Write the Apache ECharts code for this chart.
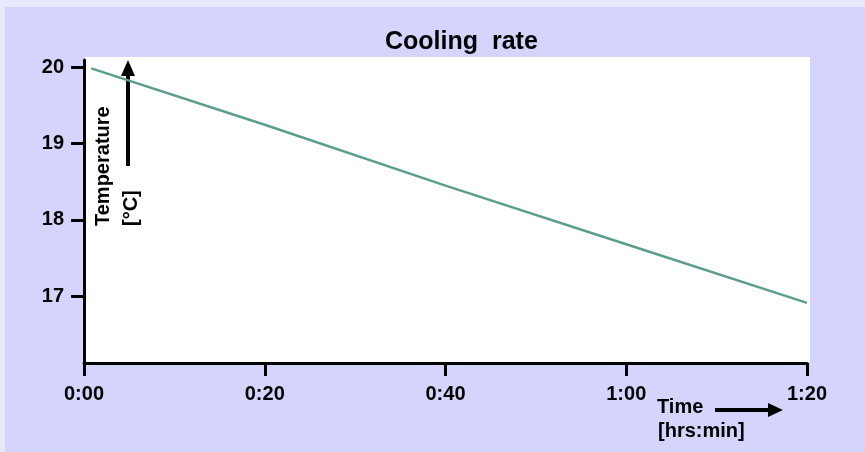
<!DOCTYPE html>
<html>
<head>
<meta charset="utf-8">
<script src="https://cdn.jsdelivr.net/npm/echarts@6/dist/echarts.min.js"></script>
<style>
  html, body { margin: 0; padding: 0; background: #e9e9fd; }
  #chart { width: 865px; height: 452px; }
</style>
</head>
<body>
<div id="chart"></div>
<script>
// values
const timeMinutes = [0.8, 20, 40, 60, 80]
const temperature = [19.99, 19.25, 18.45, 17.68, 16.91]
const timeLabels = ['0:00', '0:20', '0:40', '1:00', '1:20']
const tempTicks = [17, 18, 19, 20]

const font = 'Liberation Sans, Arial, sans-serif'
const chart = echarts.init(document.getElementById('chart'))

const option = {
  backgroundColor: '#e9e9fd',
  animation: false,
  title: {
    text: 'Cooling  rate',
    left: 380,
    top: 25,
    textStyle: { fontFamily: font, fontSize: 25, fontWeight: 'bold', color: '#000' }
  },
  grid: { left: 84, right: 58, top: 60, bottom: 89 },
  xAxis: {
    type: 'value',
    min: 0,
    max: 80,
    interval: 20,
    splitLine: { show: false },
    axisLine: { lineStyle: { color: '#000', width: 3 } },
    axisTick: { length: 13, lineStyle: { color: '#000', width: 3 } },
    axisLabel: {
      margin: 21,
      fontFamily: font,
      fontSize: 20,
      fontWeight: 'bold',
      color: '#000',
      formatter: v => timeLabels[Math.round(v / 20)]
    }
  },
  yAxis: {
    type: 'value',
    min: 16.12,
    max: 20.1,
    splitLine: { show: false },
    axisLine: { show: true, lineStyle: { color: '#000', width: 3 } },
    axisTick: { show: true, length: 13, customValues: tempTicks, lineStyle: { color: '#000', width: 3 } },
    axisLabel: {
      margin: 20,
      customValues: tempTicks,
      fontFamily: font,
      fontSize: 20,
      fontWeight: 'bold',
      color: '#000'
    }
  },
  series: [{
    type: 'line',
    data: timeMinutes.map((t, i) => [t, temperature[i]]),
    showSymbol: false,
    lineStyle: { color: '#5c9e8e', width: 2.5 },
    z: 3
  }],
  graphic: [
    // inner lavender panel and white plot area
    { type: 'rect', z: -20, shape: { x: 5, y: 7, width: 860, height: 445 }, style: { fill: '#d4d4fc' } },
    { type: 'rect', z: -10, shape: { x: 85, y: 57, width: 725, height: 305 }, style: { fill: '#fff' } },
    // y axis name + arrow
    { type: 'text', x: 103, y: 226, rotation: Math.PI / 2,
      style: { text: 'Temperature', font: 'bold 20px ' + font, fill: '#000', align: 'left', verticalAlign: 'middle' } },
    { type: 'text', x: 131, y: 226, rotation: Math.PI / 2,
      style: { text: '[°C]', font: 'bold 20px ' + font, fill: '#000', align: 'left', verticalAlign: 'middle' } },
    { type: 'line', shape: { x1: 128, y1: 166, x2: 128, y2: 74 }, style: { stroke: '#000', lineWidth: 4 } },
    { type: 'polygon', shape: { points: [[121, 76], [135, 76], [128, 60]] }, style: { fill: '#000' } },
    // x axis name + arrow
    { type: 'text', x: 657, y: 407,
      style: { text: 'Time', font: 'bold 20px ' + font, fill: '#000', align: 'left', verticalAlign: 'middle' } },
    { type: 'text', x: 658, y: 431,
      style: { text: '[hrs:min]', font: 'bold 20px ' + font, fill: '#000', align: 'left', verticalAlign: 'middle' } },
    { type: 'line', shape: { x1: 715, y1: 410, x2: 770, y2: 410 }, style: { stroke: '#000', lineWidth: 4 } },
    { type: 'polygon', shape: { points: [[768, 403], [768, 417], [783, 410]] }, style: { fill: '#000' } }
  ]
}

chart.setOption(option)
</script>
</body>
</html>
